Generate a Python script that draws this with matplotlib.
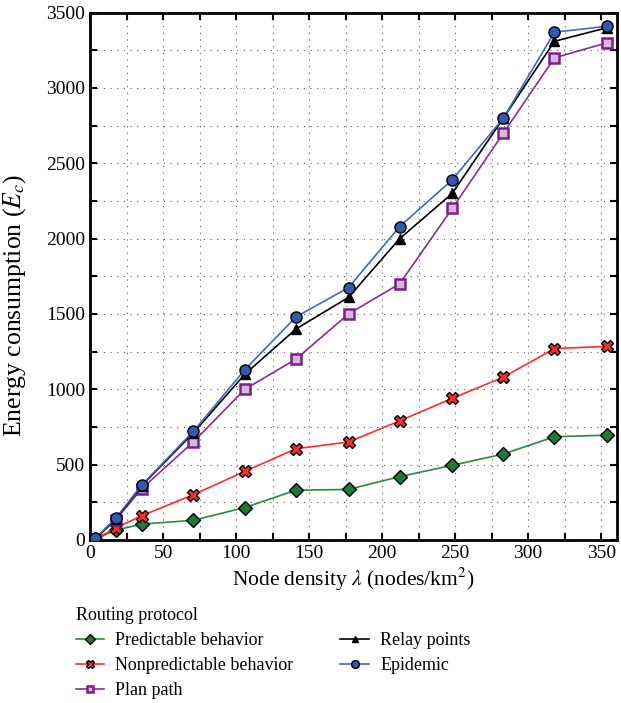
import numpy as np
import matplotlib
matplotlib.use("Agg")
import matplotlib.pyplot as plt
from matplotlib.ticker import MultipleLocator

plt.rcParams['font.family'] = ['Liberation Serif', 'DejaVu Serif']
plt.rcParams['mathtext.fontset'] = 'stix'

# node density (nodes/km^2)
density = [3.5, 17.7, 35.4, 70.7, 106, 141, 177, 212, 248, 283, 318, 354]

predictable = [5, 65, 105, 130, 215, 330, 335, 420, 495, 570, 685, 695]
nonpredictable = [5, 80, 160, 300, 455, 605, 650, 790, 940, 1080, 1270, 1285]
plan_path = [5, 135, 340, 650, 1000, 1200, 1500, 1700, 2200, 2700, 3200, 3300]
relay_points = [8, 140, 360, 710, 1100, 1400, 1610, 2000, 2300, 2800, 3310, 3400]
epidemic = [10, 145, 365, 720, 1130, 1480, 1675, 2080, 2390, 2800, 3370, 3410]

fig = plt.figure(figsize=(6.21, 7.03), dpi=100)
ax = fig.add_axes([0.145, 0.232, 0.849, 0.75])

ax.plot(density, predictable, color='#2a8a3e', lw=1.2, marker='D', ms=7,
        mfc='#1f7a38', mec='black', mew=1.0, label='Predictable behavior', zorder=3)
ax.plot(density, nonpredictable, color='#ff2a2a', lw=1.2, marker='X', ms=9,
        mfc='#ff2a2a', mec='black', mew=1.0, label='Nonpredictable behavior', zorder=3)
ax.plot(density, plan_path, color='#8a2a96', lw=1.2, marker='s', ms=7,
        mfc='#d9b6dc', mec='#7a1f86', mew=1.8, label='Plan path', zorder=3)
ax.plot(density, relay_points, color='black', lw=1.2, marker='^', ms=7,
        mfc='black', mec='black', label='Relay points', zorder=4)
ax.plot(density, epidemic, color='#4466c0', lw=1.2, marker='o', ms=8,
        mfc='#3558b0', mec='black', mew=1.0, label='Epidemic', zorder=4)

ax.set_xlim(0, 361)
ax.set_ylim(0, 3500)
ax.xaxis.set_major_locator(MultipleLocator(50))
ax.xaxis.set_minor_locator(MultipleLocator(25))
ax.yaxis.set_major_locator(MultipleLocator(500))
ax.yaxis.set_minor_locator(MultipleLocator(250))
ax.tick_params(which='both', direction='in', top=True, right=True, labelsize=14,
               length=5, width=1.5)
ax.grid(which='both', linestyle=(0, (1, 5)), color='#555555', lw=0.8)
for s in ax.spines.values():
    s.set_linewidth(2)

ax.set_xlabel(r'Node density $\lambda$ (nodes/km$^2$)', fontsize=15.5, labelpad=3)
ax.set_ylabel(r'Energy consumption ($E_c$)', fontsize=18.5)
ax.yaxis.set_label_coords(-0.118, 0.445)

leg = fig.legend(loc='upper left', bbox_to_anchor=(0.11, 0.147), ncol=2,
                 title='Routing protocol', frameon=False, fontsize=13,
                 title_fontsize=13, columnspacing=2.6, handlelength=1.6,
                 handletextpad=0.6, labelspacing=0.45, borderaxespad=0,
                 markerscale=0.7)
leg._legend_box.align = 'left'

fig.savefig('out.png', dpi=100)
